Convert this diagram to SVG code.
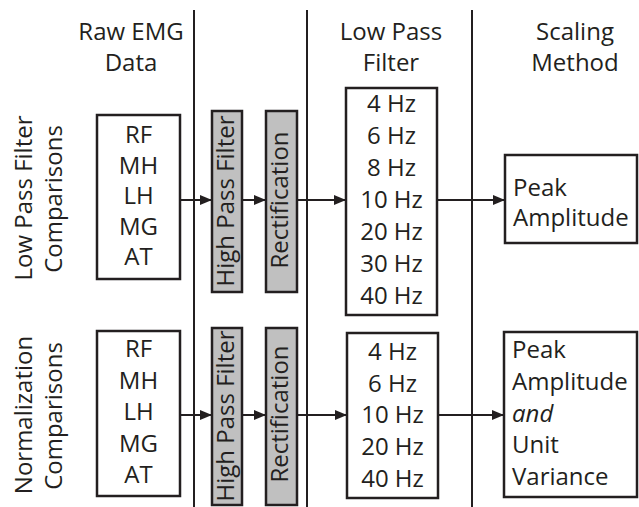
<svg xmlns="http://www.w3.org/2000/svg" width="639" height="507" viewBox="0 0 639 507">
  <style>
    text { font-family: "Open Sans", "Noto Sans", sans-serif; font-size: 24px; fill: #231f20; }
    .c { text-anchor: middle; }
    .box { fill: #ffffff; stroke: #231f20; stroke-width: 2.5; }
    .gray { fill: #c0c0c0; stroke: #231f20; stroke-width: 2.5; }
    .div { stroke: #231f20; stroke-width: 2; fill: none; }
    .conn { stroke: #231f20; stroke-width: 2; fill: none; marker-end: url(#ah); }
  </style>
  <defs>
    <marker id="ah" markerUnits="userSpaceOnUse" markerWidth="12" markerHeight="10" refX="12" refY="5" orient="auto">
      <path d="M0,0 L12,5 L0,10 Z" fill="#231f20"/>
    </marker>
  </defs>
  <rect width="639" height="507" fill="#ffffff"/>

  <g id="dividers">
    <line class="div" x1="194" y1="10" x2="194" y2="507"/>
    <line class="div" x1="307" y1="10" x2="307" y2="507"/>
    <line class="div" x1="472" y1="10" x2="472" y2="507"/>
  </g>

  <g id="headers">
    <text class="c" x="131" y="40">Raw EMG</text>
    <text class="c" x="131" y="71">Data</text>
    <text class="c" x="391" y="40">Low Pass</text>
    <text class="c" x="391" y="71">Filter</text>
    <text class="c" x="575" y="40">Scaling</text>
    <text class="c" x="575" y="71">Method</text>
  </g>

  <g id="row-labels">
    <text class="c" transform="translate(32,198) rotate(-90)">Low Pass Filter</text>
    <text class="c" transform="translate(62,199) rotate(-90)">Comparisons</text>
    <text class="c" transform="translate(32,415) rotate(-90)">Normalization</text>
    <text class="c" transform="translate(62,416) rotate(-90)">Comparisons</text>
  </g>

  <g id="connectors">
    <path class="conn" d="M180,200 H212"/>
    <path class="conn" d="M242,200 H266"/>
    <path class="conn" d="M297,200 H346"/>
    <path class="conn" d="M437,200 H505"/>
    <path class="conn" d="M180,415 H212"/>
    <path class="conn" d="M242,415 H266"/>
    <path class="conn" d="M297,415 H347"/>
    <path class="conn" d="M438,415 H504"/>
  </g>

  <g id="raw1">
    <rect class="box" x="97" y="115" width="83" height="164"/>
    <text class="c" x="138.5" y="143">RF</text>
    <text class="c" x="138.5" y="173.5">MH</text>
    <text class="c" x="138.5" y="204">LH</text>
    <text class="c" x="138.5" y="234.5">MG</text>
    <text class="c" x="138.5" y="265">AT</text>
  </g>
  <g id="hpf1">
    <rect class="gray" x="212" y="111" width="30" height="181"/>
    <text class="c" transform="translate(234,201) rotate(-90)">High Pass Filter</text>
  </g>
  <g id="rect1">
    <rect class="gray" x="266" y="111" width="31" height="181"/>
    <text class="c" transform="translate(288,200) rotate(-90)">Rectification</text>
  </g>
  <g id="lpf1">
    <rect class="box" x="346" y="88" width="91" height="227"/>
    <text class="c" x="391.5" y="112">4 Hz</text>
    <text class="c" x="391.5" y="144">6 Hz</text>
    <text class="c" x="391.5" y="176">8 Hz</text>
    <text class="c" x="391.5" y="208">10 Hz</text>
    <text class="c" x="391.5" y="240">20 Hz</text>
    <text class="c" x="391.5" y="272">30 Hz</text>
    <text class="c" x="391.5" y="304">40 Hz</text>
  </g>
  <g id="scale1">
    <rect class="box" x="505" y="155" width="132" height="88"/>
    <text x="513" y="195.5">Peak</text>
    <text x="513" y="226">Amplitude</text>
  </g>

  <g id="raw2">
    <rect class="box" x="97" y="331" width="83" height="165"/>
    <text class="c" x="138.5" y="357">RF</text>
    <text class="c" x="138.5" y="388.5">MH</text>
    <text class="c" x="138.5" y="420">LH</text>
    <text class="c" x="138.5" y="451.5">MG</text>
    <text class="c" x="138.5" y="483">AT</text>
  </g>
  <g id="hpf2">
    <rect class="gray" x="212" y="328" width="30" height="177"/>
    <text class="c" transform="translate(234,416) rotate(-90)">High Pass Filter</text>
  </g>
  <g id="rect2">
    <rect class="gray" x="266" y="328" width="31" height="177"/>
    <text class="c" transform="translate(288,414) rotate(-90)">Rectification</text>
  </g>
  <g id="lpf2">
    <rect class="box" x="347" y="333" width="91" height="165"/>
    <text class="c" x="392.5" y="360">4 Hz</text>
    <text class="c" x="392.5" y="392">6 Hz</text>
    <text class="c" x="392.5" y="423">10 Hz</text>
    <text class="c" x="392.5" y="455">20 Hz</text>
    <text class="c" x="392.5" y="487">40 Hz</text>
  </g>
  <g id="scale2">
    <rect class="box" x="504" y="332" width="133" height="165"/>
    <text x="512" y="358">Peak</text>
    <text x="512" y="390">Amplitude</text>
    <text x="512" y="422" font-style="italic">and</text>
    <text x="512" y="453">Unit</text>
    <text x="512" y="485">Variance</text>
  </g>
</svg>
